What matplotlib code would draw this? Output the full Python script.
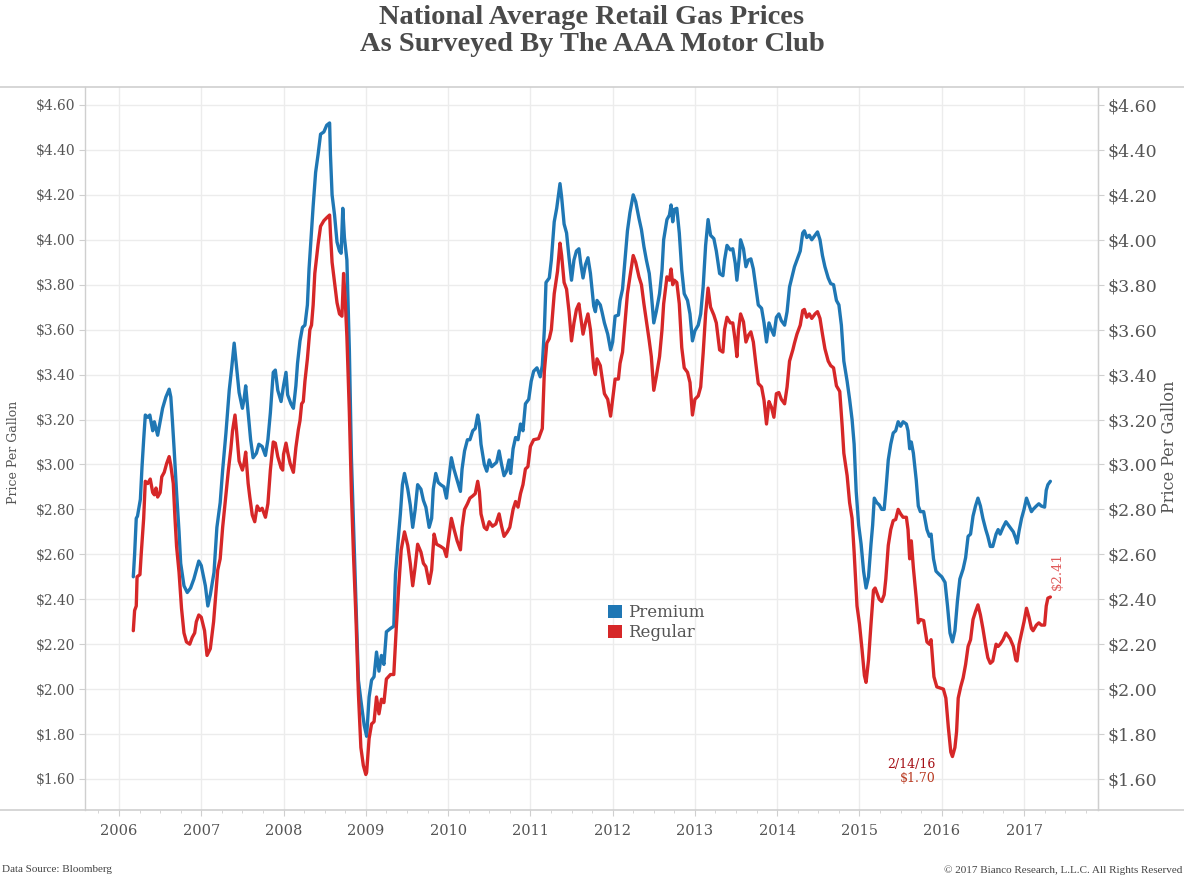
import numpy as np
import matplotlib
matplotlib.use('Agg')
import matplotlib.pyplot as plt
from matplotlib.patches import Patch
from matplotlib.ticker import MultipleLocator, FuncFormatter

# weekly-ish AAA averages, (decimal year, $/gal)
premium = [
    (2006.174, 2.50), (2006.19, 2.60), (2006.21, 2.76), (2006.225, 2.77), (2006.26, 2.845),
    (2006.28, 2.99), (2006.30, 3.11), (2006.32, 3.22), (2006.35, 3.21), (2006.375, 3.22),
    (2006.41, 3.15), (2006.43, 3.19), (2006.47, 3.13), (2006.50, 3.19), (2006.53, 3.25),
    (2006.57, 3.30), (2006.61, 3.335), (2006.63, 3.30), (2006.65, 3.19), (2006.67, 3.07),
    (2006.70, 2.875), (2006.73, 2.70), (2006.75, 2.56), (2006.79, 2.46), (2006.83, 2.43),
    (2006.87, 2.45), (2006.91, 2.49), (2006.94, 2.53), (2006.97, 2.57), (2007.0, 2.55),
    (2007.05, 2.46), (2007.08, 2.37), (2007.11, 2.42), (2007.155, 2.52), (2007.19, 2.72),
    (2007.23, 2.83), (2007.26, 2.975), (2007.30, 3.14), (2007.34, 3.33), (2007.37, 3.43),
    (2007.40, 3.54), (2007.43, 3.43), (2007.46, 3.32), (2007.50, 3.25), (2007.52, 3.29),
    (2007.54, 3.35), (2007.57, 3.23), (2007.60, 3.11), (2007.63, 3.03), (2007.67, 3.05),
    (2007.70, 3.09), (2007.74, 3.08), (2007.78, 3.04), (2007.81, 3.11), (2007.84, 3.23),
    (2007.875, 3.41), (2007.90, 3.42), (2007.93, 3.33), (2007.97, 3.28), (2008.0, 3.35),
    (2008.03, 3.41), (2008.05, 3.31), (2008.09, 3.27), (2008.12, 3.25), (2008.15, 3.35),
    (2008.17, 3.45), (2008.20, 3.55), (2008.23, 3.61), (2008.26, 3.62), (2008.29, 3.71),
    (2008.31, 3.87), (2008.33, 3.98), (2008.36, 4.15), (2008.39, 4.30), (2008.42, 4.38),
    (2008.45, 4.47), (2008.49, 4.48), (2008.525, 4.51), (2008.56, 4.52), (2008.57, 4.38),
    (2008.59, 4.20), (2008.62, 4.11), (2008.65, 3.99), (2008.68, 3.95), (2008.70, 3.94),
    (2008.72, 4.14), (2008.74, 4.01), (2008.77, 3.91), (2008.80, 3.51), (2008.825, 3.03),
    (2008.85, 2.74), (2008.88, 2.40), (2008.91, 2.04), (2008.94, 1.95), (2008.98, 1.84),
    (2009.01, 1.79), (2009.04, 1.965), (2009.07, 2.04), (2009.10, 2.055), (2009.13, 2.165),
    (2009.16, 2.08), (2009.19, 2.15), (2009.22, 2.11), (2009.25, 2.255), (2009.30, 2.27),
    (2009.34, 2.28), (2009.36, 2.51), (2009.39, 2.65), (2009.42, 2.78), (2009.445, 2.91),
    (2009.47, 2.96), (2009.51, 2.89), (2009.54, 2.82), (2009.57, 2.72), (2009.60, 2.80),
    (2009.63, 2.91), (2009.67, 2.89), (2009.70, 2.84), (2009.73, 2.81), (2009.77, 2.72),
    (2009.80, 2.76), (2009.82, 2.89), (2009.85, 2.96), (2009.88, 2.92), (2009.91, 2.91),
    (2009.95, 2.90), (2009.98, 2.85), (2010.0, 2.91), (2010.04, 3.03), (2010.07, 2.98),
    (2010.11, 2.93), (2010.15, 2.88), (2010.17, 2.98), (2010.20, 3.06), (2010.235, 3.11),
    (2010.265, 3.11), (2010.30, 3.15), (2010.33, 3.16), (2010.36, 3.22), (2010.38, 3.18),
    (2010.40, 3.09), (2010.44, 3.00), (2010.47, 2.97), (2010.50, 3.02), (2010.53, 2.99),
    (2010.56, 3.00), (2010.59, 3.01), (2010.62, 3.06), (2010.65, 3.00), (2010.68, 2.95),
    (2010.71, 2.97), (2010.74, 3.02), (2010.76, 2.96), (2010.79, 3.07), (2010.82, 3.12),
    (2010.85, 3.11), (2010.88, 3.18), (2010.91, 3.15), (2010.94, 3.27), (2010.98, 3.29),
    (2011.01, 3.37), (2011.04, 3.415), (2011.08, 3.43), (2011.12, 3.39), (2011.145, 3.44),
    (2011.17, 3.60), (2011.19, 3.81), (2011.23, 3.83), (2011.255, 3.91), (2011.29, 4.08),
    (2011.32, 4.14), (2011.36, 4.25), (2011.38, 4.19), (2011.41, 4.07), (2011.44, 4.03),
    (2011.47, 3.92), (2011.50, 3.82), (2011.53, 3.91), (2011.56, 3.95), (2011.59, 3.96),
    (2011.61, 3.90), (2011.64, 3.83), (2011.67, 3.89), (2011.70, 3.92), (2011.73, 3.85),
    (2011.77, 3.705), (2011.79, 3.68), (2011.81, 3.73), (2011.85, 3.71), (2011.87, 3.68),
    (2011.90, 3.63), (2011.94, 3.58), (2011.975, 3.51), (2012.0, 3.545), (2012.03, 3.66),
    (2012.07, 3.665), (2012.09, 3.73), (2012.12, 3.78), (2012.15, 3.91), (2012.18, 4.04),
    (2012.21, 4.12), (2012.25, 4.20), (2012.28, 4.17), (2012.32, 4.095), (2012.35, 4.045),
    (2012.38, 3.97), (2012.41, 3.91), (2012.445, 3.85), (2012.47, 3.76), (2012.50, 3.63),
    (2012.53, 3.68), (2012.57, 3.76), (2012.60, 3.865), (2012.62, 4.00), (2012.66, 4.09),
    (2012.69, 4.11), (2012.71, 4.155), (2012.73, 4.08), (2012.75, 4.135), (2012.78, 4.14),
    (2012.81, 4.03), (2012.84, 3.865), (2012.87, 3.76), (2012.91, 3.73), (2012.94, 3.67),
    (2012.97, 3.55), (2013.0, 3.595), (2013.04, 3.62), (2013.07, 3.67), (2013.10, 3.79),
    (2013.13, 3.975), (2013.16, 4.09), (2013.19, 4.02), (2013.23, 4.005), (2013.26, 3.95),
    (2013.30, 3.85), (2013.34, 3.84), (2013.36, 3.91), (2013.39, 3.975), (2013.43, 3.955),
    (2013.46, 3.96), (2013.49, 3.895), (2013.51, 3.82), (2013.54, 3.925), (2013.555, 4.00),
    (2013.59, 3.96), (2013.62, 3.88), (2013.65, 3.91), (2013.68, 3.915), (2013.71, 3.87),
    (2013.74, 3.79), (2013.77, 3.71), (2013.81, 3.695), (2013.84, 3.63), (2013.87, 3.545),
    (2013.90, 3.63), (2013.93, 3.60), (2013.96, 3.575), (2013.99, 3.655), (2014.02, 3.67),
    (2014.05, 3.64), (2014.09, 3.62), (2014.12, 3.68), (2014.15, 3.79), (2014.19, 3.85),
    (2014.21, 3.88), (2014.24, 3.91), (2014.28, 3.95), (2014.31, 4.03), (2014.33, 4.04),
    (2014.36, 4.01), (2014.39, 4.02), (2014.42, 4.00), (2014.46, 4.02), (2014.49, 4.035),
    (2014.52, 4.00), (2014.55, 3.93), (2014.58, 3.88), (2014.62, 3.83), (2014.65, 3.805),
    (2014.685, 3.80), (2014.72, 3.73), (2014.75, 3.71), (2014.78, 3.62), (2014.81, 3.46),
    (2014.85, 3.37), (2014.88, 3.29), (2014.91, 3.20), (2014.935, 3.09), (2014.96, 2.88),
    (2014.99, 2.73), (2015.02, 2.645), (2015.05, 2.525), (2015.08, 2.45), (2015.11, 2.50),
    (2015.14, 2.645), (2015.16, 2.73), (2015.18, 2.85), (2015.21, 2.83), (2015.24, 2.82),
    (2015.27, 2.80), (2015.30, 2.80), (2015.32, 2.88), (2015.35, 3.02), (2015.38, 3.09),
    (2015.41, 3.14), (2015.44, 3.15), (2015.47, 3.19), (2015.50, 3.17), (2015.53, 3.19),
    (2015.57, 3.18), (2015.59, 3.15), (2015.61, 3.07), (2015.63, 3.10), (2015.655, 3.05),
    (2015.69, 2.93), (2015.715, 2.815), (2015.74, 2.79), (2015.78, 2.79), (2015.82, 2.71),
    (2015.85, 2.68), (2015.87, 2.69), (2015.90, 2.58), (2015.93, 2.525), (2015.97, 2.51),
    (2016.0, 2.50), (2016.04, 2.475), (2016.07, 2.37), (2016.10, 2.25), (2016.13, 2.21),
    (2016.16, 2.26), (2016.19, 2.39), (2016.22, 2.49), (2016.26, 2.535), (2016.29, 2.585),
    (2016.32, 2.68), (2016.35, 2.69), (2016.38, 2.77), (2016.41, 2.815), (2016.44, 2.85),
    (2016.47, 2.815), (2016.50, 2.76), (2016.535, 2.71), (2016.56, 2.68), (2016.59, 2.635),
    (2016.62, 2.635), (2016.66, 2.69), (2016.685, 2.71), (2016.71, 2.69), (2016.745, 2.72),
    (2016.78, 2.745), (2016.81, 2.73), (2016.83, 2.72), (2016.87, 2.70), (2016.90, 2.67),
    (2016.915, 2.65), (2016.94, 2.705), (2016.97, 2.76), (2017.0, 2.80), (2017.03, 2.85),
    (2017.06, 2.82), (2017.09, 2.79), (2017.11, 2.80), (2017.15, 2.815), (2017.18, 2.825),
    (2017.21, 2.815), (2017.25, 2.81), (2017.27, 2.885), (2017.29, 2.91), (2017.32, 2.925),
]

regular = [
    (2006.174, 2.26), (2006.19, 2.35), (2006.21, 2.37), (2006.22, 2.50), (2006.255, 2.51),
    (2006.27, 2.60), (2006.30, 2.76), (2006.32, 2.925), (2006.35, 2.915), (2006.38, 2.935),
    (2006.41, 2.875), (2006.43, 2.865), (2006.45, 2.895), (2006.47, 2.855), (2006.50, 2.875),
    (2006.52, 2.945), (2006.55, 2.965), (2006.58, 3.005), (2006.61, 3.035), (2006.63, 2.995),
    (2006.66, 2.915), (2006.68, 2.765), (2006.70, 2.635), (2006.73, 2.52), (2006.76, 2.36),
    (2006.79, 2.25), (2006.82, 2.21), (2006.86, 2.20), (2006.89, 2.23), (2006.92, 2.25),
    (2006.94, 2.30), (2006.97, 2.33), (2007.0, 2.32), (2007.04, 2.26), (2007.07, 2.15),
    (2007.11, 2.18), (2007.15, 2.30), (2007.18, 2.44), (2007.20, 2.53), (2007.23, 2.58),
    (2007.26, 2.72), (2007.30, 2.865), (2007.33, 2.975), (2007.36, 3.07), (2007.38, 3.15),
    (2007.41, 3.22), (2007.43, 3.145), (2007.46, 3.015), (2007.50, 2.975), (2007.52, 3.005),
    (2007.54, 3.055), (2007.57, 2.915), (2007.59, 2.855), (2007.62, 2.775), (2007.65, 2.745),
    (2007.68, 2.815), (2007.71, 2.795), (2007.74, 2.805), (2007.78, 2.765), (2007.81, 2.825),
    (2007.84, 2.975), (2007.875, 3.10), (2007.90, 3.095), (2007.93, 3.035), (2007.97, 2.985),
    (2007.99, 2.975), (2008.0, 3.045), (2008.03, 3.095), (2008.05, 3.055), (2008.08, 3.005),
    (2008.12, 2.965), (2008.15, 3.075), (2008.18, 3.155), (2008.20, 3.195), (2008.22, 3.27),
    (2008.24, 3.28), (2008.26, 3.37), (2008.29, 3.47), (2008.32, 3.60), (2008.34, 3.62),
    (2008.36, 3.71), (2008.38, 3.85), (2008.42, 3.98), (2008.45, 4.06), (2008.49, 4.085),
    (2008.53, 4.10), (2008.56, 4.11), (2008.57, 4.03), (2008.59, 3.90), (2008.62, 3.81),
    (2008.65, 3.72), (2008.68, 3.67), (2008.71, 3.66), (2008.73, 3.85), (2008.75, 3.73),
    (2008.77, 3.57), (2008.80, 3.23), (2008.825, 2.875), (2008.85, 2.60), (2008.88, 2.32),
    (2008.91, 1.98), (2008.94, 1.74), (2008.97, 1.66), (2009.0, 1.62), (2009.01, 1.63),
    (2009.04, 1.78), (2009.07, 1.845), (2009.10, 1.855), (2009.13, 1.965), (2009.16, 1.89),
    (2009.19, 1.955), (2009.22, 1.94), (2009.25, 2.045), (2009.30, 2.065), (2009.34, 2.065),
    (2009.37, 2.27), (2009.40, 2.455), (2009.43, 2.62), (2009.47, 2.70), (2009.51, 2.64),
    (2009.54, 2.56), (2009.57, 2.46), (2009.60, 2.545), (2009.63, 2.645), (2009.67, 2.61),
    (2009.70, 2.56), (2009.73, 2.545), (2009.77, 2.47), (2009.80, 2.53), (2009.83, 2.69),
    (2009.86, 2.645), (2009.91, 2.635), (2009.95, 2.625), (2009.98, 2.59), (2010.0, 2.65),
    (2010.04, 2.76), (2010.07, 2.715), (2010.11, 2.66), (2010.15, 2.62), (2010.17, 2.72),
    (2010.20, 2.80), (2010.235, 2.825), (2010.265, 2.85), (2010.30, 2.86), (2010.33, 2.87),
    (2010.36, 2.925), (2010.38, 2.88), (2010.40, 2.78), (2010.44, 2.72), (2010.47, 2.71),
    (2010.50, 2.745), (2010.54, 2.725), (2010.58, 2.735), (2010.62, 2.78), (2010.65, 2.725),
    (2010.68, 2.68), (2010.72, 2.70), (2010.75, 2.72), (2010.79, 2.80), (2010.82, 2.835),
    (2010.85, 2.81), (2010.88, 2.87), (2010.91, 2.91), (2010.94, 2.98), (2010.97, 2.99),
    (2011.00, 3.08), (2011.04, 3.11), (2011.10, 3.115), (2011.145, 3.16), (2011.17, 3.415),
    (2011.20, 3.54), (2011.23, 3.56), (2011.255, 3.60), (2011.29, 3.76), (2011.33, 3.86),
    (2011.36, 3.985), (2011.38, 3.93), (2011.41, 3.81), (2011.44, 3.78), (2011.47, 3.68),
    (2011.50, 3.55), (2011.53, 3.63), (2011.56, 3.69), (2011.59, 3.715), (2011.61, 3.66),
    (2011.64, 3.58), (2011.67, 3.63), (2011.70, 3.67), (2011.73, 3.60), (2011.77, 3.43),
    (2011.79, 3.40), (2011.81, 3.47), (2011.85, 3.44), (2011.87, 3.39), (2011.90, 3.315),
    (2011.94, 3.29), (2011.975, 3.215), (2012.0, 3.29), (2012.03, 3.38), (2012.07, 3.38),
    (2012.09, 3.45), (2012.12, 3.50), (2012.15, 3.63), (2012.18, 3.76), (2012.21, 3.835),
    (2012.25, 3.93), (2012.28, 3.90), (2012.32, 3.835), (2012.35, 3.80), (2012.38, 3.715),
    (2012.41, 3.64), (2012.445, 3.55), (2012.47, 3.48), (2012.50, 3.33), (2012.53, 3.39),
    (2012.57, 3.48), (2012.60, 3.60), (2012.62, 3.715), (2012.66, 3.835), (2012.69, 3.82),
    (2012.71, 3.87), (2012.73, 3.80), (2012.75, 3.82), (2012.78, 3.81), (2012.81, 3.715),
    (2012.84, 3.52), (2012.87, 3.43), (2012.91, 3.41), (2012.94, 3.365), (2012.97, 3.22),
    (2013.0, 3.29), (2013.04, 3.305), (2013.07, 3.345), (2013.10, 3.495), (2013.13, 3.67),
    (2013.16, 3.785), (2013.19, 3.70), (2013.23, 3.665), (2013.26, 3.63), (2013.30, 3.51),
    (2013.34, 3.50), (2013.36, 3.60), (2013.39, 3.655), (2013.43, 3.63), (2013.46, 3.63),
    (2013.49, 3.55), (2013.51, 3.48), (2013.53, 3.60), (2013.555, 3.67), (2013.59, 3.635),
    (2013.62, 3.545), (2013.65, 3.575), (2013.68, 3.59), (2013.71, 3.545), (2013.74, 3.45),
    (2013.77, 3.36), (2013.81, 3.345), (2013.84, 3.285), (2013.87, 3.18), (2013.90, 3.28),
    (2013.93, 3.255), (2013.96, 3.21), (2013.99, 3.315), (2014.02, 3.32), (2014.05, 3.29),
    (2014.09, 3.27), (2014.12, 3.345), (2014.15, 3.46), (2014.19, 3.51), (2014.21, 3.54),
    (2014.24, 3.58), (2014.28, 3.62), (2014.31, 3.685), (2014.33, 3.69), (2014.36, 3.655),
    (2014.39, 3.67), (2014.42, 3.65), (2014.46, 3.67), (2014.49, 3.68), (2014.52, 3.65),
    (2014.55, 3.58), (2014.58, 3.515), (2014.62, 3.46), (2014.65, 3.44), (2014.685, 3.43),
    (2014.72, 3.35), (2014.76, 3.325), (2014.79, 3.17), (2014.81, 3.05), (2014.85, 2.95),
    (2014.88, 2.83), (2014.91, 2.76), (2014.935, 2.61), (2014.97, 2.37), (2015.0, 2.29),
    (2015.03, 2.18), (2015.06, 2.06), (2015.08, 2.03), (2015.11, 2.13), (2015.14, 2.29),
    (2015.17, 2.44), (2015.19, 2.45), (2015.22, 2.42), (2015.24, 2.40), (2015.27, 2.39),
    (2015.30, 2.42), (2015.32, 2.49), (2015.35, 2.64), (2015.38, 2.71), (2015.41, 2.75),
    (2015.44, 2.755), (2015.47, 2.80), (2015.50, 2.78), (2015.53, 2.765), (2015.57, 2.765),
    (2015.59, 2.71), (2015.61, 2.58), (2015.63, 2.66), (2015.655, 2.54), (2015.69, 2.405),
    (2015.715, 2.295), (2015.74, 2.31), (2015.78, 2.305), (2015.82, 2.21), (2015.85, 2.20),
    (2015.87, 2.22), (2015.905, 2.055), (2015.94, 2.01), (2015.98, 2.005), (2016.02, 2.00),
    (2016.05, 1.96), (2016.08, 1.83), (2016.11, 1.72), (2016.13, 1.70), (2016.16, 1.74),
    (2016.18, 1.81), (2016.20, 1.96), (2016.23, 2.01), (2016.26, 2.05), (2016.29, 2.11),
    (2016.32, 2.19), (2016.35, 2.22), (2016.38, 2.31), (2016.41, 2.345), (2016.44, 2.375),
    (2016.47, 2.33), (2016.50, 2.27), (2016.535, 2.19), (2016.56, 2.14), (2016.59, 2.115),
    (2016.62, 2.125), (2016.66, 2.20), (2016.685, 2.19), (2016.71, 2.20), (2016.745, 2.22),
    (2016.78, 2.25), (2016.81, 2.235), (2016.83, 2.225), (2016.87, 2.19), (2016.90, 2.13),
    (2016.915, 2.125), (2016.94, 2.20), (2016.97, 2.25), (2017.0, 2.30), (2017.03, 2.36),
    (2017.06, 2.32), (2017.09, 2.27), (2017.11, 2.26), (2017.15, 2.285), (2017.18, 2.295),
    (2017.21, 2.285), (2017.25, 2.285), (2017.27, 2.37), (2017.29, 2.405), (2017.32, 2.41),
]

years = list(range(2006, 2018))
price_ticks = [1.60, 1.80, 2.00, 2.20, 2.40, 2.60, 2.80, 3.00, 3.20, 3.40, 3.60, 3.80, 4.00, 4.20, 4.40, 4.60]
low_date, low_label = 2016.13, '2/14/16'
last_label = '$2.41'

BLUE = '#1f77b4'
RED = '#d62728'
TEXT = '#555555'
GRID = '#ececec'
SPINE = '#cfcfcf'
SERIF = ['DejaVu Serif']

plt.rcParams['font.family'] = SERIF

fig = plt.figure(figsize=(11.84, 8.84), dpi=100)
ax = fig.add_axes([85 / 1184, 1 - 810 / 884, 1013 / 1184, 723 / 884])

p = np.array(premium).T
r = np.array(regular).T
ax.plot(p[0], p[1], color=BLUE, lw=2.4, solid_joinstyle='round', solid_capstyle='round', zorder=3)
ax.plot(r[0], r[1], color=RED, lw=2.4, solid_joinstyle='round', solid_capstyle='round', zorder=3)

ax.set_xlim(2005.587, 2017.899)
ax.set_ylim(1.462, 4.680)

ax.set_xticks(years)
ax.set_xticklabels([str(y) for y in years])
ax.xaxis.set_minor_locator(MultipleLocator(0.25))
ax.set_yticks(price_ticks)
ax.yaxis.set_major_formatter(FuncFormatter(lambda v, _: '${:.2f}'.format(v)))

ax.grid(True, which='major', color=GRID, lw=1.0, zorder=0)
for s in ['top', 'bottom']:
    ax.spines[s].set_visible(False)
for s in ['left', 'right']:
    ax.spines[s].set_color(SPINE)
    ax.spines[s].set_linewidth(1.0)

ax.tick_params(axis='x', which='major', length=4, color=SPINE, labelsize=10.5,
               labelcolor=TEXT, pad=6)
ax.tick_params(axis='x', which='minor', length=2.5, color=SPINE)
ax.tick_params(axis='y', length=4, color=SPINE, labelsize=10, labelcolor=TEXT, pad=3)

ax2 = ax.twinx()
ax2.set_ylim(ax.get_ylim())
ax2.set_yticks(price_ticks)
ax2.yaxis.set_major_formatter(FuncFormatter(lambda v, _: '${:.2f}'.format(v)))
ax2.tick_params(axis='y', length=4, color=SPINE, labelsize=12.5, labelcolor=TEXT, pad=3)
for s in ['top', 'bottom', 'left']:
    ax2.spines[s].set_visible(False)
ax2.spines['right'].set_color(SPINE)

# full-width frame lines, tableau style
fig.add_artist(plt.Line2D([0, 1], [1 - 87 / 884] * 2, color=SPINE, lw=1.2))
fig.add_artist(plt.Line2D([0, 1], [1 - 810 / 884] * 2, color=SPINE, lw=1.2))

fig.text(14 / 1184, 1 - 452 / 884, 'Price Per Gallon', rotation=90, ha='center', va='center',
         fontsize=9, color=TEXT)
fig.text(1170 / 1184, 1 - 447 / 884, 'Price Per Gallon', rotation=90, ha='center', va='center',
         fontsize=11.5, color=TEXT)

fig.text(0.5, 1 - 5 / 884, 'National Average Retail Gas Prices\nAs Surveyed By The AAA Motor Club',
         ha='center', va='top', fontsize=20.5, fontweight='bold', color='#4a4a4a',
         family=['Liberation Serif'], linespacing=1.08)

handles = [Patch(facecolor=BLUE, edgecolor='none', label='Premium'),
           Patch(facecolor=RED, edgecolor='none', label='Regular')]
leg = ax.legend(handles=handles, loc='center left', bbox_to_anchor=(0.508, 0.259),
                frameon=False, fontsize=12, handlelength=0.85, handleheight=0.85,
                handletextpad=0.35, labelspacing=0.2, borderpad=0)
for t in leg.get_texts():
    t.set_color(TEXT)

low_val = dict(regular)[low_date]
ax.text(2015.92, 1.663, low_label, ha='right', va='center', fontsize=9, color='#a50f15')
ax.text(2015.92, 1.600, '${:.2f}'.format(low_val), ha='right', va='center', fontsize=9,
        color='#b8371e')
ax.text(2017.40, 2.44, last_label, rotation=90, ha='center', va='bottom', fontsize=9.5,
        color='#e05a5a')

fig.text(2 / 1184, 1 - 870 / 884, 'Data Source: Bloomberg', ha='left', va='center',
         fontsize=8, color='#444444', family=['Liberation Serif'])
fig.text(1182 / 1184, 1 - 870 / 884, '\u00a9 2017 Bianco Research, L.L.C. All Rights Reserved',
         ha='right', va='center', fontsize=8, color='#444444', family=['Liberation Serif'])

fig.savefig('out.png', dpi=100)
